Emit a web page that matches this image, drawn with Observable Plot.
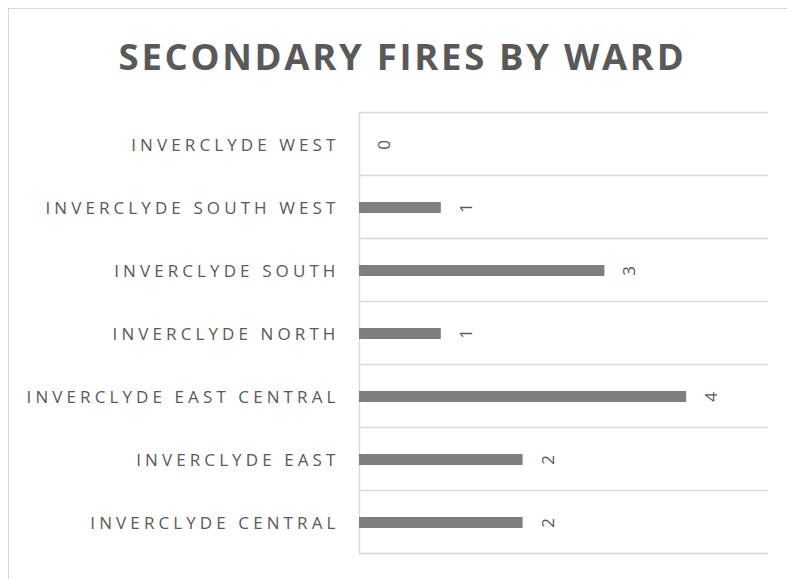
<!DOCTYPE html>
<html>
<head>
<meta charset="utf-8">
<script src="https://cdn.jsdelivr.net/npm/d3@7"></script>
<script src="https://cdn.jsdelivr.net/npm/@observablehq/plot@0.6"></script>
<style>
  html, body { margin: 0; padding: 0; background: #fff; overflow: hidden; }
  #wrap { position: relative; width: 787px; height: 579px; overflow: hidden; }
  #frame { position: absolute; left: 8px; top: 8px; width: 900px; height: 700px; border: 1.5px solid #d9d9d9; box-sizing: border-box; }
  #title { position: absolute; left: 0; width: 805px; top: 31px; text-align: center; font-family: "Open Sans", sans-serif; font-weight: bold; font-size: 36.5px; letter-spacing: 2.7px; color: #595959; line-height: 50px; }
  #chart { position: absolute; left: 0; top: 0; }
  #chart svg text { font-family: "Open Sans", sans-serif; }
  #chart .yaxis text { letter-spacing: 4.1px; }
</style>
</head>
<body>
<div id="wrap">
  <div id="frame"></div>
  <div id="title">SECONDARY FIRES BY WARD</div>
  <div id="chart"></div>
</div>
<script>
const wards = [
  "INVERCLYDE WEST",
  "INVERCLYDE SOUTH WEST",
  "INVERCLYDE SOUTH",
  "INVERCLYDE NORTH",
  "INVERCLYDE EAST CENTRAL",
  "INVERCLYDE EAST",
  "INVERCLYDE CENTRAL"
];
const fires = [0, 1, 3, 1, 4, 2, 2];
const xMax = 5;

const data = wards.map((w, i) => ({ward: w, value: fires[i]}));
const lastWard = [wards[wards.length - 1]];

const chart = Plot.plot({
  width: 787,
  height: 579,
  marginLeft: 359,
  marginRight: 19,
  marginTop: 112,
  marginBottom: 26,
  style: { background: "transparent", color: "#595959", fontSize: "17px" },
  x: { domain: [0, xMax], axis: null },
  y: { domain: wards, padding: 0, label: null },
  marks: [
    Plot.ruleY(wards, { y: d => d, dy: -31.5, stroke: "#d9d9d9", strokeWidth: 1.5 }),
    Plot.ruleY(lastWard, { y: d => d, dy: 31.5, stroke: "#d9d9d9", strokeWidth: 1.5 }),
    Plot.ruleX([0], { stroke: "#d9d9d9", strokeWidth: 1.5 }),
    Plot.barX(data, { x: "value", y: "ward", fill: "#7f7f7f", insetTop: 27, insetBottom: 25 }),
    Plot.text(data, { x: "value", y: "ward", text: d => String(d.value), rotate: -90, dx: 25, dy: 1, fill: "#595959", fontSize: 17 }),
    Plot.axisY({ tickSize: 0, tickPadding: 20, dy: 1.5, fontSize: 17, className: "yaxis", fill: "#595959" })
  ]
});
document.getElementById("chart").appendChild(chart);
</script>
</body>
</html>
